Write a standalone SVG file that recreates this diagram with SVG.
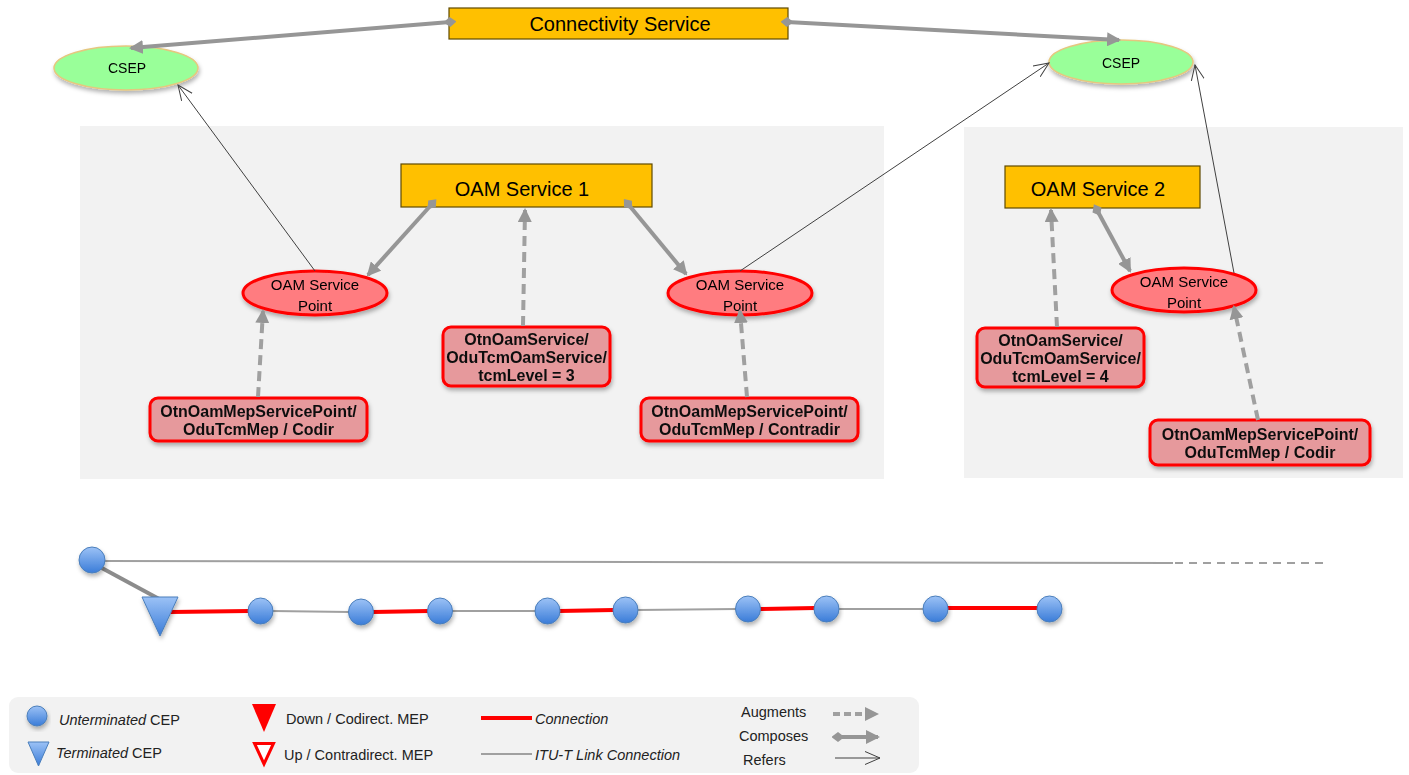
<svg xmlns="http://www.w3.org/2000/svg" width="1409" height="775" viewBox="0 0 1409 775">
<defs>
<style>
.txt{font-family:"Liberation Sans",Arial,sans-serif;fill:#000}
.svc{fill:#FFC000;stroke:#5F4A00;stroke-width:1.2}
.csep{fill:#99FF99;stroke:#E5C77F;stroke-width:1.5}
.sp{fill:#FF7C80;stroke:#FF0000;stroke-width:3}
.box{fill:#E6999C;stroke:#FF0000;stroke-width:3}
.bt{font-family:"Liberation Sans",Arial,sans-serif;font-weight:bold;font-size:16px;text-anchor:middle;fill:#111}
.comp{stroke:#969696;stroke-width:4;fill:none;marker-start:url(#dia);marker-end:url(#ah)}
.aug{stroke:#A0A0A0;stroke-width:4;fill:none;stroke-dasharray:10 6;marker-end:url(#ah)}
.ref{stroke:#404040;stroke-width:1;fill:none;marker-end:url(#open)}
.conn{stroke:#FF0000;stroke-width:4;fill:none}
.link{stroke:#A0A0A0;stroke-width:2;fill:none}
.cep{fill:url(#cepg);stroke:#4A7EBB;stroke-width:1}
.lg{font-family:"Liberation Sans",Arial,sans-serif;font-size:14.5px;fill:#222}
</style>
<linearGradient id="cepg" x1="0" y1="0" x2="0" y2="1">
<stop offset="0" stop-color="#9CC2F6"/>
<stop offset="1" stop-color="#3A7CD8"/>
</linearGradient>
<filter id="sh" x="-20%" y="-20%" width="140%" height="150%">
<feDropShadow dx="1" dy="3" stdDeviation="2" flood-color="#000" flood-opacity="0.3"/>
</filter>
<marker id="ah" viewBox="0 0 14 14" refX="12" refY="7" markerWidth="14" markerHeight="14" orient="auto" markerUnits="userSpaceOnUse">
<path d="M0,0 L14,7 L0,14 z" fill="#969696"/>
</marker>
<marker id="dia" viewBox="0 0 14 14" refX="7" refY="7" markerWidth="13" markerHeight="13" orient="auto" markerUnits="userSpaceOnUse">
<path d="M0,7 L7,1.5 L14,7 L7,12.5 z" fill="#969696"/>
</marker>
<marker id="open" viewBox="0 0 16 16" refX="15" refY="8" markerWidth="16" markerHeight="16" orient="auto" markerUnits="userSpaceOnUse">
<path d="M0,1.5 L15,8 L0,14.5" fill="none" stroke="#404040" stroke-width="1"/>
</marker>
</defs>
<rect x="0" y="0" width="1409" height="775" fill="#FFFFFF"/>

<!-- panels -->
<g id="panel1"><rect x="80" y="126" width="804" height="353" fill="#F2F2F2"/></g>
<g id="panel2"><rect x="964" y="127" width="439" height="351" fill="#F2F2F2"/></g>

<!-- top nodes -->
<g id="connectivity-service">
<rect class="svc" x="449" y="8" width="339" height="31"/>
<text class="txt" x="620" y="30.5" font-size="20" text-anchor="middle">Connectivity Service</text>
</g>
<g id="csep-left" filter="url(#sh)">
<ellipse class="csep" cx="126" cy="68" rx="72" ry="22"/>
<text class="txt" x="127" y="73" font-size="14" text-anchor="middle">CSEP</text>
</g>
<g id="csep-right" filter="url(#sh)">
<ellipse class="csep" cx="1121" cy="62" rx="72" ry="22"/>
<text class="txt" x="1121" y="67.5" font-size="14" text-anchor="middle">CSEP</text>
</g>

<!-- panel 1 nodes -->
<g id="oam-service-1">
<rect class="svc" x="401" y="164" width="251" height="43"/>
<text class="txt" x="522" y="195.5" font-size="20" text-anchor="middle">OAM Service 1</text>
</g>
<g id="oam-sp-left" filter="url(#sh)">
<ellipse class="sp" cx="315" cy="293" rx="72" ry="22"/>
<text class="txt" x="315" y="290" font-size="15" text-anchor="middle">OAM Service</text>
<text class="txt" x="315" y="310.5" font-size="15" text-anchor="middle">Point</text>
</g>
<g id="oam-sp-mid" filter="url(#sh)">
<ellipse class="sp" cx="740" cy="293" rx="72" ry="22"/>
<text class="txt" x="740" y="290" font-size="15" text-anchor="middle">OAM Service</text>
<text class="txt" x="740" y="310.5" font-size="15" text-anchor="middle">Point</text>
</g>
<g id="mep-codir-1" filter="url(#sh)">
<rect class="box" x="150" y="398" width="217" height="43" rx="8"/>
<text class="bt" x="258.5" y="417">OtnOamMepServicePoint/</text>
<text class="bt" x="258.5" y="434.5">OduTcmMep / Codir</text>
</g>
<g id="tcm-3" filter="url(#sh)">
<rect class="box" x="443" y="327" width="167" height="59" rx="8"/>
<text class="bt" x="526.5" y="344.5">OtnOamService/</text>
<text class="bt" x="526.5" y="362.5">OduTcmOamService/</text>
<text class="bt" x="526.5" y="380.5">tcmLevel = 3</text>
</g>
<g id="mep-contradir" filter="url(#sh)">
<rect class="box" x="641" y="398" width="217" height="43" rx="8"/>
<text class="bt" x="749.5" y="417">OtnOamMepServicePoint/</text>
<text class="bt" x="749.5" y="434.5">OduTcmMep / Contradir</text>
</g>

<!-- panel 2 nodes -->
<g id="oam-service-2">
<rect class="svc" x="1005" y="166" width="195" height="42"/>
<text class="txt" x="1098" y="196" font-size="20" text-anchor="middle">OAM Service 2</text>
</g>
<g id="oam-sp-right" filter="url(#sh)">
<ellipse class="sp" cx="1184" cy="290" rx="72" ry="22"/>
<text class="txt" x="1184" y="287" font-size="15" text-anchor="middle">OAM Service</text>
<text class="txt" x="1184" y="307.5" font-size="15" text-anchor="middle">Point</text>
</g>
<g id="tcm-4" filter="url(#sh)">
<rect class="box" x="977" y="328" width="167" height="59" rx="8"/>
<text class="bt" x="1060.5" y="345.5">OtnOamService/</text>
<text class="bt" x="1060.5" y="363.5">OduTcmOamService/</text>
<text class="bt" x="1060.5" y="381.5">tcmLevel = 4</text>
</g>
<g id="mep-codir-2" filter="url(#sh)">
<rect class="box" x="1150" y="420" width="220" height="45" rx="8"/>
<text class="bt" x="1260" y="440">OtnOamMepServicePoint/</text>
<text class="bt" x="1260" y="457.5">OduTcmMep / Codir</text>
</g>

<!-- connectors -->
<g id="connectors">
<line class="comp" x1="450" y1="22" x2="131" y2="48"/>
<line class="comp" x1="787" y1="22" x2="1119" y2="40"/>
<line class="comp" x1="432" y1="204" x2="368" y2="275"/>
<line class="comp" x1="628" y1="204" x2="686" y2="274"/>
<line class="comp" x1="1097" y1="210" x2="1130" y2="271"/>
<line class="aug" x1="523" y1="326" x2="525" y2="210"/>
<line class="aug" x1="258" y1="397" x2="263" y2="311"/>
<line class="aug" x1="747" y1="397" x2="740" y2="311"/>
<line class="aug" x1="1057" y1="327" x2="1051" y2="210"/>
<line class="aug" x1="1258" y1="420" x2="1234" y2="307"/>
<line class="ref" x1="315" y1="271" x2="178" y2="85"/>
<line class="ref" x1="740" y1="271" x2="1049" y2="63"/>
<line class="ref" x1="1234" y1="273" x2="1195" y2="65"/>
</g>

<!-- bottom topology -->
<g id="topology-links">
<line class="link" x1="104" y1="561" x2="1173" y2="563"/>
<line class="link" x1="1175" y1="563" x2="1325" y2="563" stroke-dasharray="8 6" stroke-width="2.5"/>
<line x1="100" y1="567" x2="161" y2="600" stroke="#8C8C8C" stroke-width="4"/>
<line class="conn" x1="171" y1="612" x2="249" y2="611"/>
<line class="link" x1="272" y1="611" x2="350" y2="612"/>
<line class="conn" x1="373" y1="612" x2="429" y2="611"/>
<line class="link" x1="452" y1="611" x2="536" y2="611"/>
<line class="conn" x1="559" y1="611" x2="614" y2="610"/>
<line class="link" x1="637" y1="610" x2="737" y2="609"/>
<line class="conn" x1="760" y1="609" x2="815" y2="608"/>
<line class="link" x1="838" y1="609" x2="924" y2="609"/>
<line class="conn" x1="947" y1="608" x2="1038" y2="608"/>
</g>
<g id="cep-top" filter="url(#sh)"><ellipse class="cep" cx="92" cy="560" rx="13" ry="13"/></g>
<g id="tep" filter="url(#sh)"><path d="M142,597 L178,597 L160,636 Z" fill="url(#cepg)" stroke="#4A7EBB" stroke-width="1"/></g>
<g id="cep-1" filter="url(#sh)"><ellipse class="cep" cx="260.5" cy="611" rx="12.5" ry="13"/></g>
<g id="cep-2" filter="url(#sh)"><ellipse class="cep" cx="361" cy="612" rx="12.5" ry="13"/></g>
<g id="cep-3" filter="url(#sh)"><ellipse class="cep" cx="440" cy="611" rx="12.5" ry="13"/></g>
<g id="cep-4" filter="url(#sh)"><ellipse class="cep" cx="547.5" cy="611" rx="12.5" ry="13"/></g>
<g id="cep-5" filter="url(#sh)"><ellipse class="cep" cx="625.5" cy="610" rx="12.5" ry="13"/></g>
<g id="cep-6" filter="url(#sh)"><ellipse class="cep" cx="748" cy="609" rx="12.5" ry="13"/></g>
<g id="cep-7" filter="url(#sh)"><ellipse class="cep" cx="826.5" cy="609" rx="12.5" ry="13"/></g>
<g id="cep-8" filter="url(#sh)"><ellipse class="cep" cx="935.5" cy="609" rx="12.5" ry="13"/></g>
<g id="cep-9" filter="url(#sh)"><ellipse class="cep" cx="1049.5" cy="609" rx="12.5" ry="13"/></g>

<!-- legend -->
<g id="legend">
<rect x="9" y="697" width="910" height="76" rx="9" fill="#F2F2F2"/>
<ellipse class="cep" cx="37" cy="716" rx="10" ry="10" filter="url(#sh)"/>
<text class="lg" x="59" y="725"><tspan font-style="italic">Unterminated</tspan> CEP</text>
<path d="M28,742 L49,742 L38.5,766 Z" fill="url(#cepg)" stroke="#4A7EBB" stroke-width="1"/>
<text class="lg" x="56" y="758"><tspan font-style="italic">Terminated</tspan> CEP</text>
<path d="M252,704 L276,704 L264,732 Z" fill="#FF0000"/>
<text class="lg" x="286" y="724">Down / Codirect. MEP</text>
<path d="M254.5,743.5 L273.5,743.5 L264,764 Z" fill="#FFFFFF" stroke="#FF0000" stroke-width="3"/>
<text class="lg" x="284" y="760">Up / Contradirect. MEP</text>
<line class="conn" x1="481" y1="718" x2="532" y2="718"/>
<text class="lg" x="535" y="724" font-style="italic">Connection</text>
<line class="link" x1="481" y1="754" x2="532" y2="754"/>
<text class="lg" x="535" y="760" font-style="italic">ITU-T Link Connection</text>
<text class="lg" x="741" y="717">Augments</text>
<line x1="833" y1="714" x2="877" y2="714" stroke="#A0A0A0" stroke-width="4" stroke-dasharray="7 4" marker-end="url(#ah)"/>
<text class="lg" x="739" y="741">Composes</text>
<line x1="838" y1="737" x2="878" y2="737" stroke="#969696" stroke-width="4" marker-start="url(#dia)" marker-end="url(#ah)"/>
<text class="lg" x="743" y="765">Refers</text>
<line class="ref" x1="835" y1="758" x2="880" y2="758"/>
</g>
</svg>
